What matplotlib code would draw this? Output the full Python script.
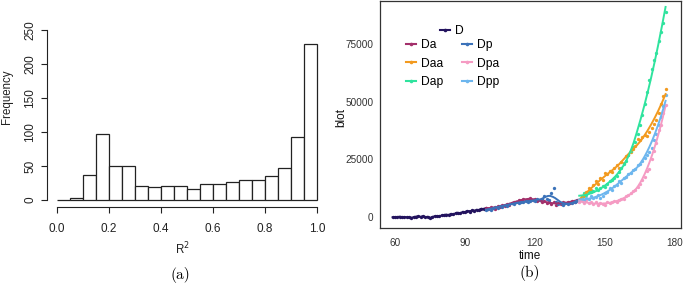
import numpy as np
import matplotlib
matplotlib.use("Agg")
from matplotlib import pyplot as plt
from matplotlib.lines import Line2D

# ---- panel (a): histogram of R^2 ----
bin_left = [0.00, 0.05, 0.10, 0.15, 0.20, 0.25, 0.30, 0.35, 0.40, 0.45,
            0.50, 0.55, 0.60, 0.65, 0.70, 0.75, 0.80, 0.85, 0.90, 0.95]
freq = [0, 3, 37, 97, 50, 50, 21, 19, 20, 20,
        16, 24, 24, 26, 29, 30, 35, 47, 92, 229]
hist_xticks = [0.0, 0.2, 0.4, 0.6, 0.8, 1.0]
hist_yticks = [0, 50, 100, 150, 200, 250]

# ---- panel (b): blot vs time ----
t_D = list(range(59, 100))
v_D = [0, 200, 100, 300, 100, 200, 0, 100, -200, 100, 300, 400, 200, 500, 0,
       300, -300, 200, 400, 600, 500, 800, 1000, 1200, 1000, 1500, 1300, 1800,
       2000, 1700, 2400, 2200, 2800, 2500, 3000, 2800, 3300, 3100, 3800, 3400, 4000]

t_mid = list(range(99, 139))
v_Da = [4200, 3500, 4500, 4000, 3800, 4800, 4500, 5200, 5000, 5800,
        5500, 6200, 6800, 6500, 7500, 7200, 8000, 7500, 7800, 8300,
        7600, 8000, 7200, 7600, 6500, 7000, 6200, 6800, 5800, 6500,
        5500, 6200, 5800, 6500, 6000, 6800, 6200, 7200, 6800, 7500]
v_Dp = [3200, 3800, 3300, 4200, 4500, 4000, 5000, 4600, 5400, 5000,
        5800, 6000, 5600, 6500, 6200, 6800, 6500, 7000, 6600, 7200,
        7500, 7000, 7800, 7400, 8000, 9300, 7800, 7500, 10500, 12800,
        6500, 5800, 6200, 5500, 6000, 5800, 6500, 6200, 6800, 7000]

t_late = list(range(139, 177))
v_Daa = [7000, 8500, 9000, 11000, 12500, 12000, 14000, 15500, 14500, 17000,
         16000, 19000, 18500, 20000, 19500, 21500, 22500, 21500, 24000, 23500,
         26500, 27000, 28000, 29500, 31000, 34000, 33500, 34500, 35500, 35000,
         37000, 38500, 40500, 42000, 45000, 49000, 52500, 55500]
v_Dap = [7500, 9000, 10500, 9800, 11000, 10800, 11500, 12500, 11800, 12800,
         13500, 13000, 14500, 15500, 16000, 17000, 18000, 19500, 21500, 23000,
         24500, 27000, 28500, 30500, 32500, 36000, 40000, 44000, 49000, 54000,
         59500, 64000, 68000, 71000, 76000, 80000, 84000, 88500]
v_Dpa = [6500, 7000, 6200, 7500, 6000, 6800, 5800, 6500, 5500, 6200,
         5800, 5500, 6800, 6000, 6500, 7200, 6800, 7500, 8000, 7800,
         9000, 9500, 10500, 11500, 12000, 13000, 14500, 16000, 17500, 20000,
         21000, 25000, 28500, 32000, 37500, 40000, 45000, 48500]
v_Dpp = [7500, 8000, 7200, 8500, 8000, 9000, 8200, 8800, 9500, 8500,
         9000, 10500, 11000, 12500, 12000, 13500, 14000, 15500, 15000, 17000,
         17500, 18500, 19000, 20500, 21000, 22500, 23000, 24500, 25500, 27000,
         28000, 30000, 33500, 36000, 40000, 43500, 48000, 53000]

series = [
    ("D", t_D, v_D, "#23135e"),
    ("Da", t_mid, v_Da, "#a3306b"),
    ("Dp", t_mid, v_Dp, "#3b72b9"),
    ("Daa", t_late, v_Daa, "#f29a1f"),
    ("Dap", t_late, v_Dap, "#2fe39e"),
    ("Dpa", t_late, v_Dpa, "#f59bc3"),
    ("Dpp", t_late, v_Dpp, "#6db6ee"),
]
span = {"D": 0.12, "Da": 0.4, "Dp": 0.4}


def loess(x, y, frac=0.75, deg=2, n=150):
    # plain local polynomial smoother, like geom_smooth's default
    x = np.asarray(x, float)
    y = np.asarray(y, float)
    xs = np.linspace(x.min(), x.max(), n)
    k = max(deg + 2, int(np.ceil(frac * len(x))))
    out = []
    for x0 in xs:
        d = np.abs(x - x0)
        h = np.sort(d)[k - 1] * 1.0001
        w = (1 - (d / h) ** 3) ** 3
        w[d >= h] = 0
        A = np.vander(x - x0, deg + 1)
        W = np.sqrt(w)
        coef = np.linalg.lstsq(A * W[:, None], y * W, rcond=None)[0]
        out.append(coef[-1])
    return xs, np.array(out)


plt.rcParams["font.family"] = ["Liberation Sans", "DejaVu Sans"]
fig = plt.figure(figsize=(6.85, 2.86), dpi=100)
W, H = 685.0, 286.0

# ---------- (a) ----------
ax1 = fig.add_axes([46.6 / W, (H - 206.8) / H, 280.8 / W, 183.6 / H])
ax1.bar(bin_left, freq, width=0.05, align="edge", color="white",
        edgecolor="#222222", linewidth=0.9)
ax1.set_xlim(-0.04, 1.04)
ax1.set_ylim(-10, 260)
for s in ["top", "right"]:
    ax1.spines[s].set_visible(False)
ax1.spines["left"].set_bounds(0, 250)
ax1.spines["bottom"].set_bounds(0, 1)
for s in ["left", "bottom"]:
    ax1.spines[s].set_color("#222222")
    ax1.spines[s].set_linewidth(0.8)
ax1.set_xticks(hist_xticks)
ax1.set_xticklabels(["%.1f" % v for v in hist_xticks])
ax1.set_yticks(hist_yticks)
ax1.set_yticklabels([str(v) for v in hist_yticks], rotation=90, va="center")
ax1.tick_params(axis="both", length=4.5, width=0.8, color="#222222",
                labelsize=8.5, labelcolor="#222222")
ax1.tick_params(axis="x", pad=7)
ax1.tick_params(axis="y", pad=3)
fig.text(7 / W, 1 - 97 / H, "Frequency", rotation=90, ha="center", va="center",
         fontsize=8.3, color="#222222")
fig.text(182 / W, 1 - 249 / H, "R$^2$", ha="center", va="center",
         fontsize=8.3, color="#222222")
fig.text(180 / W, 1 - 275 / H, "(a)", ha="center", va="center",
         fontsize=11, family="cmr10")

# ---------- (b) ----------
ax2 = fig.add_axes([379.5 / W, (H - 228) / H, 301 / W, 227 / H])
handles = []
for name, t, v, c in series:
    ax2.plot(t, v, "o", ms=2.4, color=c, mew=0, zorder=2)
    sx, sy = loess(t, v, frac=span.get(name, 0.75))
    ax2.plot(sx, sy, color=c, lw=1.4, zorder=3)
    handles.append(Line2D([], [], color=c, lw=1.5, marker="o", ms=2.6, mew=0))
ax2.set_xlim(53.4, 182.4)
ax2.set_ylim(-4620, 93400)
ax2.set_xticks([60, 90, 120, 150, 180])
ax2.set_yticks([0, 25000, 50000, 75000])
ax2.tick_params(axis="both", length=0, labelsize=7.2, labelcolor="#333333")
ax2.tick_params(axis="x", pad=7)
ax2.tick_params(axis="y", pad=4.5)
for s in ax2.spines.values():
    s.set_color("#333333")
    s.set_linewidth(0.9)
fig.text(530 / W, 1 - 256 / H, "time", ha="center", va="center",
         fontsize=8.5, color="#111111")
fig.text(341 / W, 1 - 117 / H, "blot", rotation=90, ha="center", va="center",
         fontsize=8.5, color="#111111")
fig.text(530 / W, 1 - 273 / H, "(b)", ha="center", va="center",
         fontsize=11, family="cmr10")

leg1 = ax2.legend([handles[0]], ["D"], loc="upper left", frameon=False,
                  bbox_to_anchor=(440 / W, 1 - 25 / H),
                  bbox_transform=fig.transFigure, fontsize=8.7,
                  handlelength=0.8, handletextpad=0.4, borderpad=0,
                  borderaxespad=0)
ax2.add_artist(leg1)
order = [1, 3, 4, 2, 5, 6]
ax2.legend([handles[i] for i in order], [series[i][0] for i in order],
           loc="upper left", ncol=2, frameon=False,
           bbox_to_anchor=(406 / W, 1 - 39 / H),
           bbox_transform=fig.transFigure, fontsize=8.7,
           handlelength=0.8, handletextpad=0.4, labelspacing=0.55,
           columnspacing=1.6, borderpad=0, borderaxespad=0)

fig.savefig("out.png", dpi=100)
